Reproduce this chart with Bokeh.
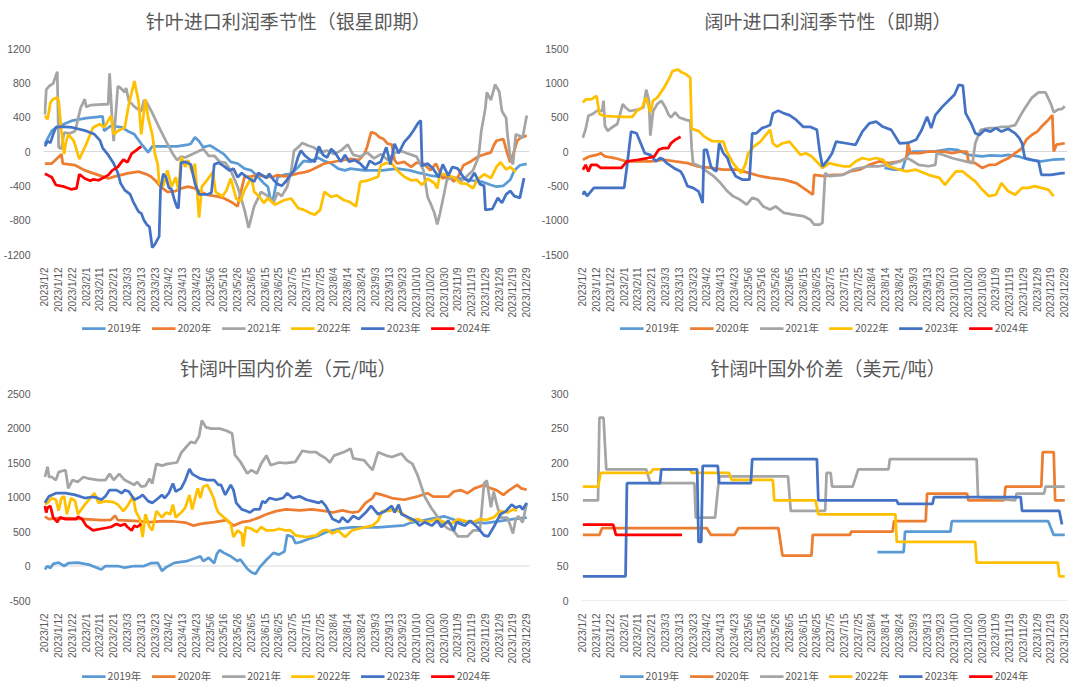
import math
from bokeh.plotting import figure
from bokeh.layouts import gridplot
from bokeh.models import Span, FixedTicker, Legend, LegendItem, Range1d
from bokeh.core.properties import value
from bokeh.embed import file_html
from bokeh.resources import INLINE

DATE_LABELS = ["2023/1/2", "2023/1/12", "2023/1/22", "2023/2/1", "2023/2/11", "2023/2/21",
               "2023/3/3", "2023/3/13", "2023/3/23", "2023/4/2", "2023/4/13", "2023/4/23",
               "2023/5/6", "2023/5/16", "2023/5/26", "2023/6/5", "2023/6/15", "2023/6/25",
               "2023/7/5", "2023/7/15", "2023/7/25", "2023/8/4", "2023/8/14", "2023/8/24",
               "2023/9/3", "2023/9/13", "2023/9/23", "2023/10/10", "2023/10/20", "2023/10/30",
               "2023/11/9", "2023/11/19", "2023/11/29", "2023/12/9", "2023/12/19", "2023/12/29"]
YEARS = ["2019年", "2020年", "2021年", "2022年", "2023年", "2024年"]
COLORS = ["#5B9BD5", "#ED7D31", "#A5A5A5", "#FFC000", "#4472C4", "#FF0000"]
TITLES = ["针叶进口利润季节性（银星即期）", "阔叶进口利润季节性（即期）",
          "针阔叶国内价差（元/吨）", "针阔叶国外价差（美元/吨）"]

# ---------- 针叶进口利润季节性（银星即期）: (day index, value) ----------
TL_2019 = [(0,85),(2,150),(5,240),(9,290),(14,320),(20,360),(30,390),(42,410),(43,240),(48,300),(56,280),(60,240),(65,200),(70,90),(73,30),(75,-10),(78,60),(82,60),(96,60),(104,80),(106,90),(109,165),(112,120),(115,50),(120,70),(126,10),(130,-30),(135,-120),(140,-140),(145,-200),(150,-220),(155,-300),(159,-370),(162,-410),(164,-570),(166,-540),(169,-300),(174,-270),(179,-260),(184,-180),(188,-110),(193,-120),(198,-70),(203,-110),(208,-140),(213,-200),(218,-220),(222,-200),(232,-220),(245,-220),(256,-200),(265,-220),(272,-250),(280,-280),(290,-300),(300,-310),(309,-335),(318,-355),(324,-390),(328,-410),(333,-400),(338,-330),(341,-220),(345,-160),(350,-145)]
TL_2020 = [(0,-140),(5,-140),(10,-65),(12,-30),(13,-140),(22,-160),(29,-220),(39,-275),(46,-315),(51,-290),(55,-275),(60,-255),(68,-235),(73,-260),(77,-290),(81,-350),(84,-410),(89,-470),(94,-465),(99,-430),(104,-410),(109,-430),(113,-470),(118,-505),(126,-525),(130,-545),(135,-585),(140,-640),(141,-560),(145,-295),(150,-290),(155,-275),(160,-290),(165,-300),(169,-275),(174,-290),(179,-275),(184,-255),(189,-240),(193,-220),(198,-180),(203,-140),(208,-125),(215,-105),(222,-85),(228,-100),(232,-30),(234,50),(237,225),(240,210),(243,165),(246,145),(249,90),(252,80),(254,-100),(256,-140),(261,-120),(266,-180),(270,-130),(275,-140),(280,-220),(284,-140),(289,-315),(293,-280),(297,-350),(300,-300),(304,-160),(309,-120),(314,-65),(320,-30),(324,-10),(326,70),(328,125),(333,145),(336,-30),(338,-125),(341,10),(343,125),(346,165),(350,185)]
TL_2021 = [(0,430),(1,720),(3,760),(6,790),(9,930),(10,50),(12,30),(14,220),(18,210),(22,240),(26,510),(29,610),(30,520),(33,540),(42,550),(46,550),(47,910),(49,320),(50,120),(53,760),(55,740),(58,690),(59,740),(61,590),(64,540),(66,510),(70,470),(72,600),(74,570),(78,450),(83,280),(88,120),(93,-30),(96,-100),(99,-60),(102,-70),(115,30),(119,-50),(123,-50),(127,-120),(131,-130),(135,-220),(140,-410),(145,-680),(148,-890),(152,-640),(157,-470),(162,-520),(166,-600),(169,-480),(172,-520),(176,-410),(179,-220),(181,10),(184,50),(187,100),(191,70),(195,50),(200,-10),(205,10),(210,-30),(215,10),(220,80),(224,-40),(229,-60),(234,-10),(239,-80),(244,-30),(249,-100),(254,-20),(258,10),(263,-20),(270,-60),(275,-220),(278,-530),(280,-600),(283,-720),(285,-850),(287,-720),(290,-490),(292,-330),(297,-300),(302,-350),(307,-280),(311,-220),(315,-60),(317,240),(320,510),(321,690),(324,600),(327,780),(330,700),(332,470),(335,390),(336,200),(338,-70),(340,-150),(342,200),(345,180),(347,160),(350,420)]
TL_2022 = [(0,415),(2,375),(4,570),(6,610),(9,630),(10,590),(12,240),(14,-30),(15,85),(17,200),(21,125),(25,-90),(30,85),(35,280),(40,320),(43,280),(48,415),(50,200),(53,240),(58,280),(61,550),(65,820),(68,590),(70,200),(73,610),(75,395),(78,200),(80,-30),(82,-150),(83,-370),(86,-400),(89,-220),(92,-410),(95,-300),(97,-450),(99,-65),(102,-180),(104,-100),(107,-250),(109,-140),(112,-770),(114,-410),(118,-330),(122,-240),(124,-470),(129,-525),(132,-450),(135,-315),(139,-550),(142,-580),(145,-450),(150,-300),(152,-470),(156,-530),(159,-600),(162,-545),(167,-620),(174,-565),(179,-550),(184,-660),(188,-680),(193,-720),(196,-735),(200,-680),(203,-470),(208,-530),(212,-510),(217,-565),(221,-585),(226,-640),(229,-355),(234,-340),(242,-295),(244,-160),(248,-135),(252,-140),(256,-220),(261,-295),(266,-335),(270,-330),(274,-390),(278,-315),(283,-370),(285,-430),(287,-255),(292,-275),(297,-300),(302,-370),(306,-375),(311,-430),(314,-330),(319,-265),(324,-310),(328,-180),(331,-125),(335,-210),(338,-180),(342,-240)]
TL_2023 = [(0,60),(2,120),(4,100),(6,200),(8,280),(12,290),(20,280),(30,240),(36,200),(40,130),(42,40),(46,-40),(50,-140),(53,-250),(55,-370),(58,-450),(62,-500),(64,-580),(68,-700),(70,-720),(72,-800),(74,-850),(76,-880),(78,-1120),(80,-1080),(83,-990),(84,-440),(86,-260),(88,-300),(90,-420),(92,-440),(94,-560),(96,-650),(97,-660),(99,-130),(102,-120),(106,-150),(109,-370),(112,-500),(118,-500),(121,-480),(123,-150),(126,-130),(130,-170),(134,-220),(137,-200),(140,-300),(143,-250),(146,-290),(150,-330),(152,-350),(155,-250),(158,-280),(161,-310),(163,-260),(166,-330),(169,-380),(172,-400),(175,-350),(178,-280),(181,-220),(184,-60),(186,10),(189,-50),(192,-90),(196,-120),(199,60),(202,-40),(205,-70),(208,30),(211,-20),(215,-120),(218,-40),(221,-120),(225,-100),(229,-140),(233,-210),(236,-110),(240,-150),(244,-120),(248,50),(251,-150),(254,90),(257,-20),(261,110),(265,180),(268,250),(271,330),(273,360),(274,-170),(278,-140),(282,-200),(286,-300),(289,-150),(293,-280),(296,-180),(300,-200),(304,-300),(308,-350),(312,-250),(316,-380),(319,-400),(320,-680),(325,-670),(329,-540),(332,-600),(335,-500),(338,-460),(341,-520),(345,-540),(348,-310)]
TL_2024 = [(0,-260),(2,-275),(5,-300),(8,-390),(14,-410),(19,-440),(23,-430),(25,-265),(29,-315),(33,-340),(35,-325),(39,-335),(46,-275),(49,-220),(53,-180),(57,-95),(60,-125),(63,-25),(66,10),(70,60)]

# ---------- 阔叶进口利润季节性（即期） ----------
TR_2019 = [(219,-240),(226,-265),(232,-265),(235,-70),(237,-25),(240,0),(255,0),(266,35),(272,25),(280,-50),(290,-70),(296,-55),(304,-65),(309,-50),(316,-70),(324,-120),(333,-145),(341,-120),(350,-110)]
TR_2020 = [(0,-120),(5,-70),(10,-50),(13,-25),(16,-70),(23,-95),(32,-145),(42,-145),(50,-145),(59,-120),(67,-145),(76,-170),(83,-215),(93,-240),(102,-265),(112,-265),(121,-315),(129,-360),(136,-385),(146,-410),(155,-460),(160,-530),(165,-600),(167,-630),(168,-340),(175,-360),(182,-340),(189,-335),(194,-290),(201,-265),(208,-195),(215,-145),(222,-170),(230,-145),(235,-100),(236,120),(238,-25),(245,-25),(251,0),(262,0),(268,-25),(275,0),(279,0),(280,-145),(285,-170),(290,-240),(295,-195),(300,-190),(304,-145),(309,-100),(314,-25),(319,50),(322,170),(326,240),(330,290),(333,360),(338,460),(341,530),(342,0),(344,100),(350,120)]
TR_2021 = [(0,200),(2,325),(4,520),(7,545),(10,590),(14,590),(15,740),(16,375),(18,300),(21,350),(25,400),(29,690),(31,640),(34,590),(40,610),(44,640),(46,900),(48,740),(49,230),(51,590),(54,690),(57,740),(60,640),(62,545),(64,495),(67,570),(70,495),(75,460),(78,445),(79,60),(80,-170),(85,-215),(90,-290),(95,-360),(100,-460),(105,-580),(109,-650),(114,-700),(119,-775),(123,-675),(127,-700),(131,-800),(136,-845),(140,-800),(146,-895),(153,-920),(160,-940),(165,-990),(168,-1065),(172,-1065),(174,-1040),(176,-315),(179,-360),(189,-340),(196,-265),(201,-240),(208,-215),(215,-215),(222,-195),(230,-145),(235,-95),(238,-120),(244,-195),(251,-215),(256,-195),(257,-25),(262,-50),(268,-95),(273,-120),(278,-145),(283,-170),(285,120),(289,315),(295,340),(300,340),(304,360),(309,360),(314,385),(318,530),(321,630),(326,780),(331,860),(336,860),(340,690),(342,570),(345,610),(348,620),(350,660)]
TR_2022 = [(0,710),(2,760),(6,760),(10,810),(12,545),(15,520),(22,510),(29,505),(36,505),(39,590),(43,640),(46,785),(49,570),(51,740),(54,785),(59,930),(63,1075),(65,1170),(69,1195),(72,1150),(75,1125),(78,1075),(79,330),(84,300),(88,220),(94,150),(102,145),(104,20),(109,-170),(113,-265),(115,-315),(118,-190),(120,-30),(124,70),(129,145),(132,220),(136,315),(138,120),(141,70),(145,120),(150,145),(154,50),(158,-50),(162,-25),(166,-70),(171,-170),(174,-240),(179,-170),(184,-195),(189,-215),(194,-215),(198,-145),(203,-95),(208,-120),(213,-95),(218,-120),(222,-215),(230,-265),(235,-290),(242,-265),(251,-340),(259,-385),(263,-485),(267,-385),(271,-290),(276,-290),(280,-360),(285,-435),(290,-555),(295,-650),(300,-630),(304,-460),(309,-580),(314,-630),(319,-530),(324,-530),(328,-505),(333,-530),(338,-555),(342,-650)]
TR_2023 = [(0,-630),(1,-580),(3,-650),(8,-530),(14,-530),(22,-530),(30,-530),(32,-220),(35,290),(39,265),(42,120),(45,-25),(49,-50),(53,-145),(56,-95),(58,-110),(61,-170),(66,-240),(71,-290),(73,-360),(76,-505),(80,-530),(84,-580),(87,-750),(88,25),(90,25),(93,-220),(95,-265),(97,-290),(99,120),(102,-25),(105,-95),(107,-215),(111,-360),(116,-410),(121,-410),(123,265),(126,265),(130,340),(133,360),(136,385),(138,555),(142,595),(146,555),(150,530),(155,460),(160,360),(165,360),(170,315),(172,0),(174,-215),(178,-120),(181,-25),(184,145),(191,120),(198,95),(203,290),(208,410),(213,435),(218,360),(224,315),(230,120),(236,125),(242,170),(246,310),(250,505),(253,340),(256,530),(261,650),(266,750),(270,830),(273,970),(276,960),(278,560),(282,410),(285,265),(288,240),(292,315),(296,290),(300,340),(304,290),(309,330),(314,265),(317,195),(319,120),(321,-95),(326,-120),(331,-145),(333,-340),(340,-340),(348,-315),(350,-315)]
TR_2024 = [(0,-265),(2,-195),(4,-290),(6,-195),(10,-195),(13,-240),(18,-240),(28,-240),(32,-145),(40,-120),(47,-95),(52,-70),(55,25),(58,48),(62,50),(64,120),(67,170),(71,215)]

# ---------- 针阔叶国内价差（元/吨） ----------
BL_2019 = [(0,-50),(2,0),(4,-30),(6,30),(10,50),(14,0),(17,40),(24,50),(32,20),(41,-50),(44,0),(53,0),(58,-25),(65,0),(72,0),(77,40),(82,45),(85,-70),(88,-20),(94,45),(103,70),(110,120),(113,140),(115,70),(119,120),(123,40),(125,180),(127,230),(130,190),(135,140),(140,70),(142,95),(147,-40),(150,-90),(153,-115),(156,-20),(161,90),(166,190),(170,165),(174,210),(176,450),(180,420),(182,330),(186,350),(190,380),(199,440),(204,490),(214,540),(223,560),(242,560),(261,590),(266,630),(275,660),(290,720),(300,650),(320,620),(340,680),(350,700)]
BL_2020 = [(0,715),(3,680),(8,690),(17,695),(29,680),(41,665),(48,670),(51,730),(53,665),(65,655),(77,635),(85,650),(94,645),(102,630),(108,585),(113,610),(123,635),(132,665),(137,585),(143,635),(149,655),(156,705),(161,750),(168,795),(175,820),(185,805),(194,820),(204,795),(209,775),(216,805),(223,775),(228,790),(233,915),(238,985),(240,1055),(245,1030),(252,985),(261,960),(271,1010),(278,1055),(282,1005),(293,1005),(297,1080),(302,1100),(307,1055),(312,1125),(319,1175),(324,1125),(328,1100),(333,1030),(336,1080),(343,1175),(346,1125),(350,1105)]
BL_2021 = [(0,1290),(2,1440),(3,1290),(5,1290),(8,1245),(10,1360),(13,1380),(15,1390),(17,1125),(20,1245),(24,1220),(28,1290),(32,1265),(39,1245),(44,1245),(47,1335),(50,1245),(54,1335),(58,1245),(65,1175),(67,1220),(70,1150),(73,1160),(76,1265),(78,1195),(81,1480),(85,1455),(89,1480),(96,1500),(99,1640),(102,1710),(106,1800),(109,1780),(112,1880),(114,2110),(117,2010),(121,1990),(127,1990),(132,1960),(136,1920),(138,1610),(142,1510),(147,1340),(150,1390),(154,1340),(157,1480),(161,1600),(164,1460),(170,1500),(175,1490),(182,1510),(187,1670),(192,1650),(197,1650),(199,1620),(204,1560),(207,1500),(210,1600),(217,1650),(222,1700),(224,1560),(232,1530),(234,1480),(238,1390),(242,1650),(248,1600),(252,1580),(259,1630),(263,1530),(267,1480),(271,1300),(276,1000),(281,830),(285,720),(289,600),(293,540),(297,510),(300,430),(307,430),(311,515),(316,515),(319,1200),(321,1240),(324,850),(326,1080),(328,910),(331,700),(336,700),(338,590),(340,470),(342,680),(344,720),(347,630),(350,910)]
BL_2022 = [(0,900),(2,915),(5,985),(8,960),(10,800),(12,985),(14,1010),(16,750),(19,985),(22,940),(24,750),(29,890),(33,985),(36,1055),(39,915),(44,940),(50,925),(53,890),(57,795),(60,870),(64,1010),(66,795),(69,680),(71,420),(73,750),(76,565),(78,515),(81,795),(85,705),(88,775),(91,750),(93,890),(95,705),(99,775),(102,845),(105,1030),(107,820),(111,1125),(113,985),(115,1150),(118,1175),(121,1055),(123,960),(124,870),(126,775),(130,705),(133,655),(135,610),(137,420),(140,515),(143,470),(144,280),(146,565),(150,540),(154,490),(157,565),(161,515),(166,515),(170,540),(175,515),(178,520),(182,445),(190,420),(197,445),(202,515),(205,525),(209,470),(213,515),(218,420),(223,515),(228,540),(233,565),(238,585),(242,655),(245,795),(250,800),(254,820),(259,775),(263,705),(266,655),(271,680),(276,635),(281,655),(285,680),(290,635),(295,610),(300,680),(305,655),(311,635),(316,680),(321,670),(326,705),(331,795),(336,775),(340,820),(343,800)]
BL_2023 = [(0,915),(3,1010),(8,1055),(15,1055),(22,1030),(29,985),(34,1000),(37,995),(41,960),(44,1010),(47,1100),(52,1100),(56,1055),(58,1100),(61,1080),(65,960),(69,1000),(71,1030),(75,940),(78,915),(81,960),(85,1030),(87,985),(90,1055),(93,1195),(95,1080),(99,1125),(102,1245),(105,1405),(107,1335),(109,1310),(113,1265),(118,1245),(123,1245),(126,1175),(128,1175),(131,1030),(135,1175),(137,1100),(139,915),(143,820),(146,800),(149,775),(152,820),(156,820),(158,940),(160,915),(163,985),(168,960),(173,985),(176,1055),(180,985),(185,1010),(190,960),(194,940),(199,915),(201,940),(204,870),(209,680),(214,635),(216,705),(220,635),(224,725),(228,680),(233,775),(237,870),(242,750),(247,795),(252,870),(254,775),(257,890),(259,750),(264,705),(269,655),(272,585),(276,635),(281,585),(285,655),(288,565),(293,655),(297,515),(299,635),(305,585),(309,655),(314,565),(319,445),(322,430),(326,565),(329,680),(331,750),(335,795),(339,890),(342,845),(345,870),(347,820),(350,915)]
BL_2024 = [(0,870),(1,775),(2,845),(4,870),(6,705),(9,635),(11,705),(15,680),(20,680),(23,680),(24,715),(27,680),(30,585),(35,515),(41,540),(48,565),(52,610),(55,585),(58,610),(60,565),(63,515),(65,585),(67,565),(70,610)]

# ---------- 针阔叶国外价差（美元/吨） ----------
BR_2019 = [(214,70),(233,70),(234,100),(267,100),(268,115),(338,115),(342,95),(350,95)]
BR_2020 = [(0,95),(12,95),(14,105),(90,105),(93,95),(110,95),(113,105),(142,105),(145,65),(166,65),(167,95),(194,95),(195,100),(225,100),(226,115),(249,115),(250,155),(279,155),(280,145),(306,145),(307,165),(333,165),(334,215),(342,215),(343,145),(350,145)]
BR_2021 = [(0,145),(11,145),(12,265),(15,265),(17,190),(46,190),(49,170),(81,170),(82,120),(96,120),(99,180),(149,180),(151,130),(176,130),(177,185),(180,185),(181,165),(196,165),(200,190),(222,190),(223,205),(286,205),(287,150),(314,145),(315,155),(335,155),(336,165),(350,165)]
BR_2022 = [(0,165),(11,165),(13,185),(49,185),(51,190),(78,190),(79,185),(106,185),(108,175),(138,175),(139,145),(169,145),(171,125),(227,125),(228,85),(285,85),(286,55),(345,55),(346,35),(350,35)]
BR_2023 = [(0,35),(31,35),(32,170),(56,170),(57,190),(83,190),(84,85),(86,85),(87,195),(98,195),(99,170),(122,170),(123,205),(170,205),(171,145),(228,145),(229,140),(254,140),(255,150),(318,150),(319,130),(346,130),(348,110)]
BR_2024 = [(0,110),(22,110),(24,95),(72,95)]

CJK = "Noto Sans CJK SC"
NUM = "Liberation Sans"
GREY = "#595959"
W = 538
LW = 2.75


def title_strip(text, height, center_from_top, cx):
    s = figure(width=W, height=height, output_backend="svg", toolbar_location=None,
               x_range=Range1d(0, W), y_range=Range1d(0, height), min_border=0)
    s.axis.visible = False
    s.grid.visible = False
    s.outline_line_color = None
    s.text(x=[cx], y=[height - center_from_top], text=[text], text_align="center",
           text_baseline="middle", text_font=value(CJK), text_font_size="19px",
           text_color=GREY)
    return s


def panel(series, ylo, yhi, ystep, height, border):
    left, right, top, bottom = border
    p = figure(width=W, height=height, output_backend="svg", toolbar_location=None,
               x_range=Range1d(-1, 352), y_range=Range1d(ylo, yhi),
               min_border_left=left, min_border_right=right,
               min_border_top=top, min_border_bottom=bottom)
    p.outline_line_color = None
    p.xgrid.visible = False
    p.ygrid.visible = False
    p.add_layout(Span(location=0, dimension="width", line_color="#d9d9d9",
                      line_width=1, level="underlay"))
    for ax in (p.xaxis[0], p.yaxis[0]):
        ax.axis_line_color = None
        ax.major_tick_line_color = None
        ax.minor_tick_line_color = None
        ax.major_label_text_color = GREY
        ax.major_label_text_font = NUM
    yt = list(range(ylo, yhi + 1, ystep))
    p.yaxis[0].ticker = FixedTicker(ticks=yt)
    p.yaxis[0].major_label_overrides = {v: str(v) for v in yt}
    p.yaxis[0].major_label_text_font_size = "10.5px"
    p.yaxis[0].major_label_standoff = 7
    p.xaxis[0].ticker = FixedTicker(ticks=[i * 10 for i in range(len(DATE_LABELS))])
    p.xaxis[0].major_label_overrides = {i * 10: lab for i, lab in enumerate(DATE_LABELS)}
    p.xaxis[0].major_label_orientation = math.pi / 2
    p.xaxis[0].major_label_text_font_size = "10px"
    p.xaxis[0].major_label_standoff = 7
    for col, data in zip(COLORS, series):
        p.line([d[0] for d in data], [d[1] for d in data], line_color=col, line_width=LW)
    return p


def legend_strip(height, margin):
    s = figure(width=W, height=height, output_backend="svg", toolbar_location=None,
               x_range=Range1d(0, 1), y_range=Range1d(0, 1), min_border=0)
    s.axis.visible = False
    s.grid.visible = False
    s.outline_line_color = None
    items = []
    for name, col in zip(YEARS, COLORS):
        r = s.line([-5, -4], [-5, -5], line_color=col, line_width=LW)
        items.append(LegendItem(label=name, renderers=[r]))
    leg = Legend(items=items, orientation="horizontal", location="top_center",
                 label_text_font=CJK, label_text_font_size="10.5px", label_text_color=GREY,
                 glyph_width=24, glyph_height=10, spacing=10, label_standoff=2,
                 border_line_color=None, background_fill_alpha=0, padding=1, margin=margin)
    s.add_layout(leg)
    return s


p1 = panel([TL_2019, TL_2020, TL_2021, TL_2022, TL_2023, TL_2024], -1200, 1200, 400,
           280, (42, 9, 7, 65))
p2 = panel([TR_2019, TR_2020, TR_2021, TR_2022, TR_2023, TR_2024], -1500, 1500, 500,
           280, (40, 9, 8, 65))
p3 = panel([BL_2019, BL_2020, BL_2021, BL_2022, BL_2023, BL_2024], -500, 2500, 500,
           284, (38, 9, 6, 65))
p4 = panel([BR_2019, BR_2020, BR_2021, BR_2022, BR_2023, BR_2024], 0, 300, 50,
           284, (32, 9, 11, 66))

grid = gridplot([
    [title_strip(TITLES[0], 40, 20, 271), title_strip(TITLES[1], 40, 20, 273)],
    [p1, p2],
    [legend_strip(26, 0), legend_strip(26, 0)],
    [title_strip(TITLES[2], 36, 21, 271), title_strip(TITLES[3], 36, 21, 273)],
    [p3, p4],
    [legend_strip(26, 2), legend_strip(26, 2)],
], toolbar_location=None)
open("out.html", "w").write(file_html(grid, INLINE))
